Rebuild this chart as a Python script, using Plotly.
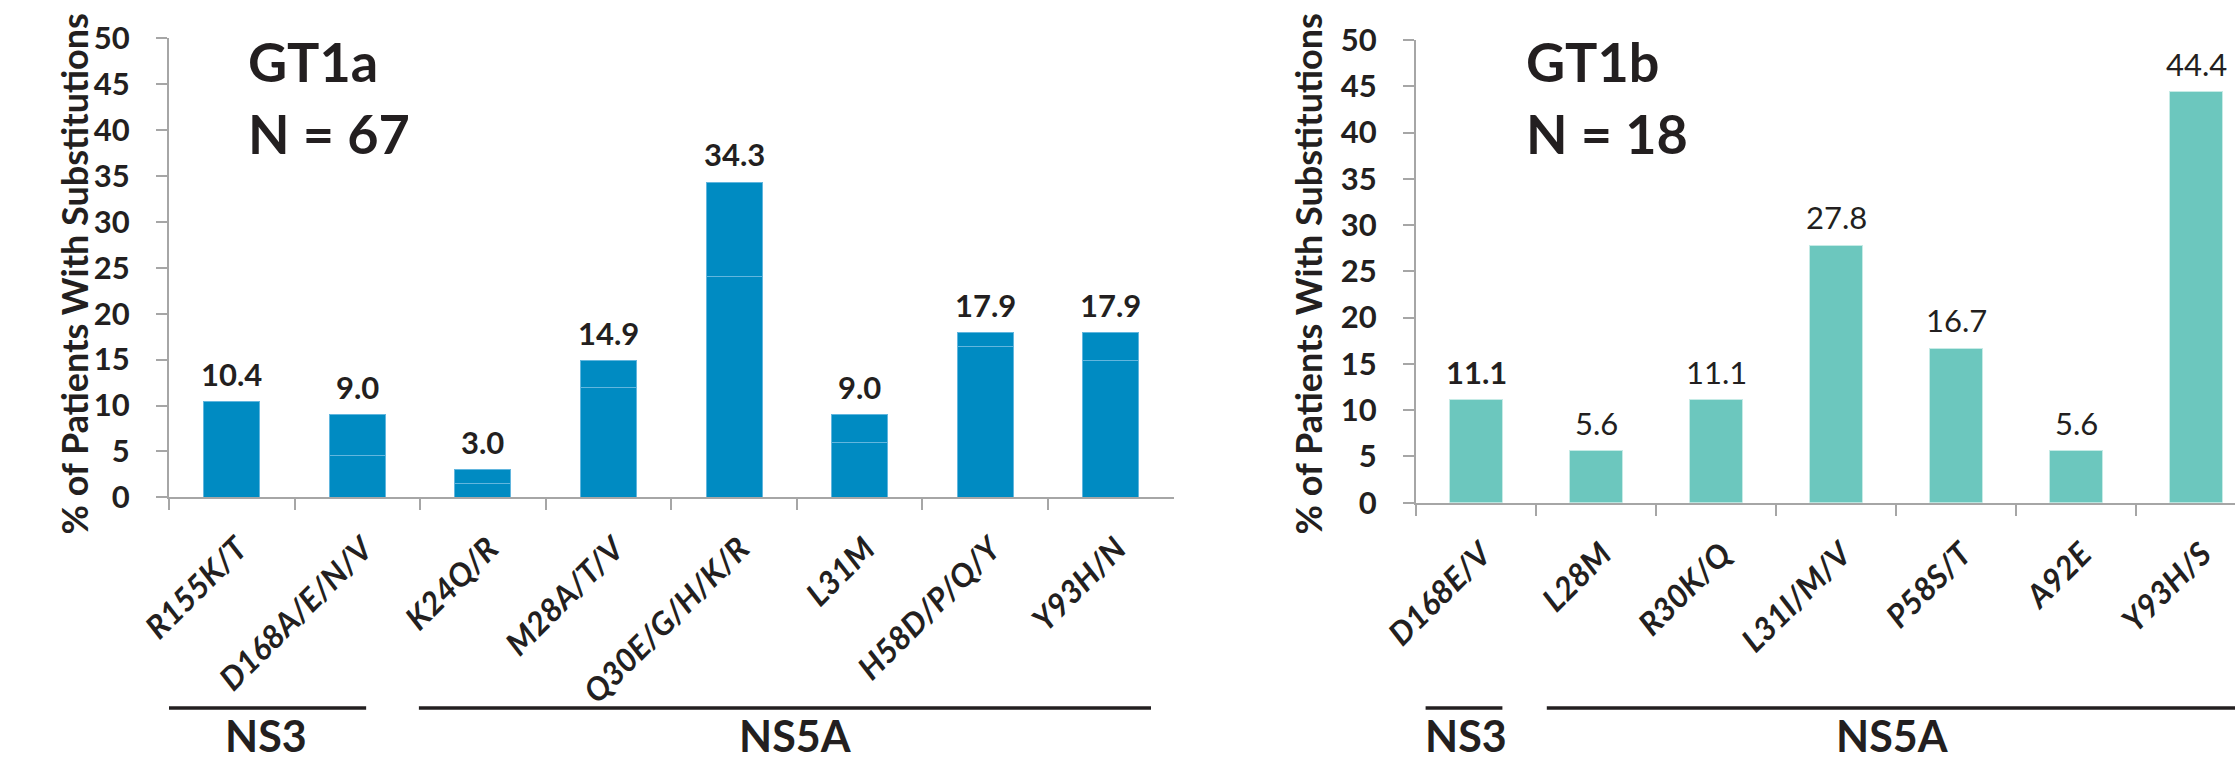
import plotly.graph_objects as go

# ---- data -------------------------------------------------------------
gt1a_labels = ["R155K/T", "D168A/E/N/V", "K24Q/R", "M28A/T/V",
               "Q30E/G/H/K/R", "L31M", "H58D/P/Q/Y", "Y93H/N"]
gt1a_values = [10.4, 9.0, 3.0, 14.9, 34.3, 9.0, 17.9, 17.9]
# level of the faint divider drawn inside each GT1a bar
gt1a_split = [10.4, 4.5, 1.5, 12.0, 24.0, 6.0, 16.4, 14.9]

gt1b_labels = ["D168E/V", "L28M", "R30K/Q", "L31I/M/V", "P58S/T", "A92E", "Y93H/S"]
gt1b_values = [11.1, 5.6, 11.1, 27.8, 16.7, 5.6, 44.4]

y_ticks = [0, 5, 10, 15, 20, 25, 30, 35, 40, 45, 50]

gt1a_groups = [("NS3", ["R155K/T", "D168A/E/N/V"]),
               ("NS5A", ["K24Q/R", "M28A/T/V", "Q30E/G/H/K/R", "L31M",
                         "H58D/P/Q/Y", "Y93H/N"])]
gt1b_groups = [("NS3", ["D168E/V"]),
               ("NS5A", ["L28M", "R30K/Q", "L31I/M/V", "P58S/T", "A92E", "Y93H/S"])]

y_title = "% of Patients With Substitutions"

# ---- styling ----------------------------------------------------------
W, H = 2235, 767
FONT = "Lato"
INK = "#231F20"
AXIS = "#A6A6A6"
BLUE = "#008BC2"
TEAL = "#6CC7BE"


def px_x(v):
    return v / W


def px_y(v):
    return 1 - v / H


fig = go.Figure()

# GT1a bars: two stacked pieces so the thin divider shows inside each bar
lower = gt1a_split
upper = [round(v - s, 2) for v, s in zip(gt1a_values, gt1a_split)]
for part in (lower, upper):
    fig.add_trace(go.Bar(
        x=gt1a_labels, y=part, width=0.446,
        marker=dict(color=BLUE, line=dict(color="#62B6DE", width=1)),
        xaxis="x", yaxis="y", showlegend=False, hoverinfo="skip"))

fig.add_trace(go.Bar(
    x=gt1b_labels, y=gt1b_values, width=0.4375,
    marker=dict(color=TEAL, line=dict(color="#C6EBE6", width=1)),
    xaxis="x2", yaxis="y2", showlegend=False, hoverinfo="skip"))

common_x = dict(
    type="category", showgrid=False, zeroline=False, automargin=False,
    showline=True, linecolor=AXIS, linewidth=2,
    ticks="outside", tickson="boundaries", ticklen=11, tickwidth=2, tickcolor=AXIS,
    tickangle=-45,
    tickfont=dict(family=FONT, size=32, color=INK, weight="bold", style="italic"),
    ticklabelstandoff=18, ticklabelshift=6,
)
common_y = dict(
    range=[0, 50], tickvals=y_ticks, showgrid=False, zeroline=False, automargin=False,
    showline=True, linecolor=AXIS, linewidth=2,
    ticks="outside", ticklen=11, tickwidth=2, tickcolor=AXIS,
    tickfont=dict(family=FONT, size=31, color=INK, weight="bold"),
    ticklabelstandoff=20,
)


def italic(labels):
    return [f"<i>{t}</i>" for t in labels]


fig.update_layout(
    template="none",
    width=W, height=H,
    margin=dict(l=0, r=0, t=0, b=0, pad=0),
    paper_bgcolor="white", plot_bgcolor="white",
    barmode="stack",
    xaxis=dict(common_x, domain=[px_x(169), px_x(1173.6)], range=[-0.5, 7.5],
               tickvals=gt1a_labels, ticktext=italic(gt1a_labels), anchor="y"),
    yaxis=dict(common_y, domain=[px_y(497.3), px_y(38.3)], anchor="x"),
    xaxis2=dict(common_x, domain=[px_x(1416), 1.0], range=[-0.5, 6.325],
                tickvals=gt1b_labels, ticktext=italic(gt1b_labels), anchor="y2"),
    yaxis2=dict(common_y, domain=[px_y(502.7), px_y(40)], anchor="x2"),
)

ann = []

# value labels above the bars
for lab, v in zip(gt1a_labels, gt1a_values):
    ann.append(dict(x=lab, y=v, xref="x", yref="y", text=f"{v:.1f}",
                    showarrow=False, yanchor="middle", yshift=28,
                    font=dict(family=FONT, size=31, color=INK, weight="bold")))
for i, (lab, v) in enumerate(zip(gt1b_labels, gt1b_values)):
    ann.append(dict(x=lab, y=v, xref="x2", yref="y2", text=f"{v:.1f}",
                    showarrow=False, yanchor="middle", yshift=28,
                    font=dict(family=FONT, size=31, color=INK,
                              weight="bold" if i == 0 else "normal")))

# panel headings
for xpx, lines in ((247, ("GT1a", "N = 67")), (1525, ("GT1b", "N = 18"))):
    for ypx, txt in zip((61, 133), lines):
        ann.append(dict(x=px_x(xpx), y=px_y(ypx), xref="paper", yref="paper",
                        text=txt, showarrow=False, xanchor="left", yanchor="middle",
                        borderpad=0,
                        font=dict(family=FONT, size=54, color=INK, weight="bold")))

# y-axis titles
for xpx in (73.5, 1307.5):
    ann.append(dict(x=px_x(xpx), y=px_y(274), xref="paper", yref="paper",
                    text=y_title, textangle=-90, showarrow=False,
                    xanchor="center", yanchor="middle",
                    font=dict(family=FONT, size=36, color=INK, weight="bold")))

# protein-region brackets under the category labels
bracket_style = {
    ("x", "NS3"): (-0.5, 1.07, 0.27),
    ("x", "NS5A"): (1.49, 7.32, 4.49),
    ("x2", "NS3"): (-0.42, 0.22, -0.08),
    ("x2", "NS5A"): (0.59, 7.0, 3.47),
}
shapes = []
for xref, labels, groups in (("x", gt1a_labels, gt1a_groups),
                             ("x2", gt1b_labels, gt1b_groups)):
    for name, members in groups:
        x0, x1, xc = bracket_style[(xref, name)]
        shapes.append(dict(type="line", xref=xref, yref="paper",
                           x0=x0, x1=x1, y0=px_y(708), y1=px_y(708),
                           line=dict(color=INK, width=3.5)))
        ann.append(dict(x=xc, y=px_y(735), xref=xref, yref="paper", text=name,
                        showarrow=False, xanchor="center", yanchor="middle",
                        font=dict(family=FONT, size=43, color=INK, weight="bold")))

fig.update_layout(annotations=ann, shapes=shapes)

fig.write_html("out.html")
